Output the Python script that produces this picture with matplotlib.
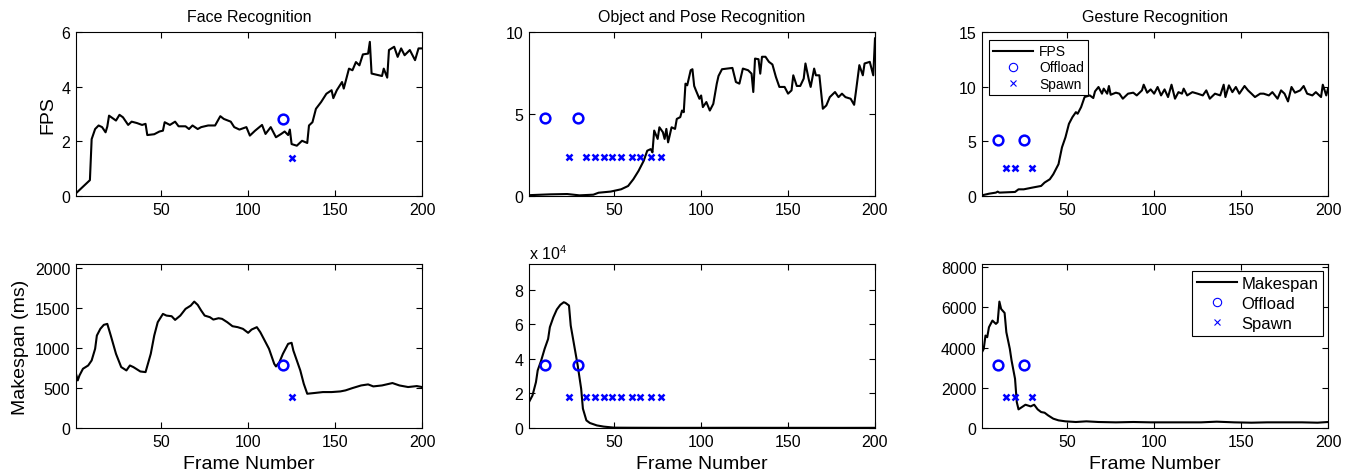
import matplotlib
matplotlib.use('Agg')
import matplotlib.pyplot as plt
from matplotlib.lines import Line2D
from matplotlib.ticker import FuncFormatter

plt.rcParams['font.family'] = ['Liberation Sans', 'DejaVu Sans']

# ---- Face recognition ----
face_fps_frames = [1, 9, 10, 12, 14, 16, 18, 19, 20, 22, 24, 26, 28, 31, 33, 36, 39, 41, 42,
                   46, 49, 51, 52, 55, 58, 60, 64, 66, 68, 71, 73, 77, 81, 84, 86, 90, 92, 95,
                   99, 101, 104, 108, 110, 113, 116, 119, 121, 123, 124, 125, 128, 131, 134,
                   135, 137, 139, 142, 145, 148, 149, 151, 154, 155, 158, 160, 162, 164, 166,
                   169, 170, 171, 175, 177, 178, 180, 181, 184, 186, 188, 190, 193, 196, 198, 200]
face_fps = [0.1, 0.58, 2.08, 2.45, 2.58, 2.52, 2.33, 2.54, 2.94, 2.85, 2.76, 2.97, 2.88, 2.6,
            2.72, 2.67, 2.6, 2.64, 2.23, 2.26, 2.36, 2.39, 2.7, 2.6, 2.72, 2.55, 2.55, 2.45,
            2.58, 2.45, 2.52, 2.58, 2.58, 2.92, 2.82, 2.72, 2.52, 2.43, 2.52, 2.21, 2.39, 2.6,
            2.27, 2.52, 2.15, 2.27, 2.36, 2.23, 2.43, 1.9, 1.84, 2.02, 1.94, 2.58, 2.7, 3.19,
            3.44, 3.74, 3.87, 3.58, 3.87, 4.17, 3.93, 4.66, 4.6, 4.9, 4.78, 5.18, 5.21, 5.64,
            4.48, 4.42, 4.39, 4.66, 4.33, 5.34, 5.46, 5.09, 5.4, 5.15, 5.34, 4.97, 5.4, 5.4]

face_ms_frames = [1, 2, 3, 5, 8, 10, 12, 13, 15, 17, 19, 21, 24, 27, 30, 32, 34, 38, 41, 44,
                  46, 48, 51, 53, 56, 58, 61, 64, 67, 69, 71, 73, 75, 78, 80, 83, 85, 88, 91,
                  94, 97, 100, 102, 105, 107, 109, 112, 115, 116, 118, 120, 123, 125, 126, 130,
                  132, 134, 138, 143, 148, 153, 156, 160, 165, 169, 172, 177, 183, 187, 192,
                  197, 200]
face_ms = [679, 596, 658, 742, 783, 846, 992, 1158, 1242, 1292, 1304, 1158, 929, 763, 721, 783,
           763, 708, 700, 929, 1158, 1325, 1429, 1408, 1400, 1354, 1408, 1492, 1533, 1583, 1542,
           1471, 1408, 1388, 1358, 1375, 1367, 1325, 1275, 1263, 1242, 1192, 1233, 1263, 1200,
           1117, 992, 804, 771, 825, 929, 1054, 1067, 971, 721, 554, 429, 438, 450, 450, 458,
           471, 500, 533, 546, 521, 533, 563, 533, 513, 525, 513]

face_offload = [120]
face_spawn = [125]
face_fps_levels = (2.82, 1.4)
face_ms_levels = (792, 392)

# ---- Object and pose recognition ----
obj_fps_frames = [1, 13, 23, 30, 38, 41, 48, 54, 58, 61, 64, 67, 69, 71, 72, 73, 75, 76, 78,
                  79, 80, 81, 83, 85, 86, 88, 89, 90, 91, 92, 94, 95, 96, 97, 99, 100, 101, 103,
                  105, 107, 109, 110, 112, 115, 118, 120, 122, 124, 127, 129, 130, 131, 133,
                  134, 135, 137, 139, 141, 143, 145, 148, 150, 152, 153, 155, 157, 159, 160,
                  162, 163, 165, 166, 168, 170, 172, 174, 177, 179, 181, 183, 186, 188, 189,
                  191, 193, 194, 197, 199, 200]
obj_fps = [0.05, 0.1, 0.12, 0.04, 0.08, 0.2, 0.27, 0.41, 0.61, 1.02, 1.53, 2.15, 2.76, 2.86,
           2.66, 3.99, 3.48, 4.19, 3.89, 3.48, 4.09, 3.27, 4.19, 4.09, 4.7, 4.81, 5.21, 5.11,
           6.85, 6.75, 7.67, 7.73, 6.71, 6.44, 5.93, 6.13, 5.42, 5.73, 5.21, 5.62, 6.85, 7.32,
           7.73, 7.77, 7.81, 6.95, 6.85, 7.77, 7.67, 7.46, 6.34, 8.38, 8.34, 7.46, 8.49, 8.49,
           8.18, 8.02, 7.26, 6.65, 6.65, 6.24, 6.44, 7.36, 6.71, 6.71, 7.16, 8.08, 7.06, 6.65,
           7.77, 7.36, 7.36, 5.32, 5.52, 6.03, 6.34, 6.03, 6.24, 6.03, 5.93, 5.56, 6.34, 7.98,
           7.36, 8.08, 8.18, 7.36, 9.61]

obj_ms_frames = [1, 3, 5, 6, 8, 10, 12, 13, 15, 17, 19, 21, 22, 24, 25, 27, 29, 31, 32, 34,
                 36, 40, 44, 50, 60, 80, 100, 120, 140, 160, 180, 200]
obj_ms = [15000, 18800, 26500, 33300, 39000, 45800, 51500, 58300, 64000, 68500, 71200, 72700,
          72300, 70800, 59200, 47700, 36200, 22700, 11200, 4400, 2900, 1500, 800, 200, 150,
          100, 100, 120, 100, 100, 80, 100]

obj_offload = [10, 29]
obj_spawn = [24, 34, 39, 44, 49, 54, 60, 65, 71, 77]
obj_fps_levels = (4.78, 2.38)
obj_ms_levels = (36500, 18100)

# ---- Gesture recognition ----
ges_fps_frames = [1, 5, 9, 10, 11, 20, 22, 25, 30, 35, 37, 40, 42, 45, 47, 49, 51, 53, 55, 56,
                  58, 60, 63, 65, 66, 68, 70, 71, 73, 74, 75, 78, 80, 82, 85, 88, 90, 93, 94,
                  96, 98, 100, 102, 104, 106, 108, 110, 112, 114, 116, 117, 119, 122, 125, 128,
                  130, 132, 135, 138, 140, 141, 143, 145, 147, 149, 152, 154, 156, 158, 161,
                  163, 166, 168, 171, 173, 175, 177, 179, 181, 184, 186, 188, 191, 193, 196,
                  197, 199, 200]
ges_fps = [0.06, 0.21, 0.31, 0.4, 0.31, 0.37, 0.61, 0.61, 0.77, 0.92, 1.23, 1.53, 1.99, 2.91,
           4.45, 5.37, 6.6, 7.21, 7.67, 7.52, 8.13, 9.05, 9.2, 8.96, 9.57, 9.97, 9.36, 9.82,
           9.36, 10.06, 9.26, 9.45, 9.36, 8.9, 9.36, 9.45, 9.2, 9.66, 10.18, 9.45, 9.75, 9.36,
           9.97, 9.2, 9.75, 9.05, 10.18, 8.9, 9.5, 9.36, 9.82, 9.2, 9.5, 9.36, 9.2, 9.66, 8.9,
           9.36, 9.2, 10.18, 9.05, 10.12, 9.5, 9.97, 9.36, 10.06, 9.66, 9.36, 9.05, 9.36, 9.36,
           9.2, 9.5, 8.9, 9.66, 9.36, 8.65, 9.97, 9.45, 9.66, 10.06, 9.36, 9.2, 9.5, 9.05,
           10.18, 9.2, 9.82]

ges_ms_frames = [1, 2, 3, 4, 5, 6, 7, 8, 9, 10, 11, 12, 14, 15, 17, 18, 20, 21, 22, 24, 26, 29,
                 31, 33, 35, 37, 39, 42, 45, 49, 55, 61, 68, 78, 88, 98, 107, 117, 127, 136,
                 146, 156, 165, 175, 185, 194, 200]
ges_ms = [3769, 3934, 4595, 4512, 5008, 5174, 5339, 5256, 5174, 5256, 6281, 5917, 5719, 4760,
          3934, 3355, 2446, 1289, 926, 1041, 1157, 1074, 1157, 926, 793, 760, 628, 463, 380,
          331, 298, 331, 298, 281, 298, 281, 281, 281, 281, 314, 281, 264, 281, 281, 281, 264,
          298]

ges_offload = [10, 25]
ges_spawn = [15, 20, 30]
ges_fps_levels = (5.08, 2.54)
ges_ms_levels = (3107, 1554)

titles = ['Face Recognition', 'Object and Pose Recognition', 'Gesture Recognition']
frame_ticks = [50, 100, 150, 200]

W, H = 1355, 477
fig = plt.figure(figsize=(W / 100, H / 100), dpi=100)

col_left = [76, 529, 982]
ax_w = 346
top_row = (33, 197)
bot_row = (265, 429)


def make_axes(left, rows):
    top, bottom = rows
    return fig.add_axes([left / W, 1 - bottom / H, ax_w / W, (bottom - top) / H])


def style(ax, ylim, yticks):
    ax.set_xlim(1, 200)
    ax.set_ylim(*ylim)
    ax.set_xticks(frame_ticks)
    ax.set_yticks(yticks)
    ax.tick_params(direction='in', top=True, right=True, length=4, width=0.8,
                   labelsize=11.5, pad=4, colors='black')
    for s in ax.spines.values():
        s.set_linewidth(0.8)
        s.set_color('black')


def draw(ax, frames, values, offload, spawn, levels):
    ax.plot(frames, values, color='black', lw=1.5)
    ax.plot(offload, [levels[0]] * len(offload), ls='none', marker='o', ms=7,
            mfc='none', mec='blue', mew=1.8)
    ax.plot(spawn, [levels[1]] * len(spawn), ls='none', marker='x', ms=4.5,
            mec='blue', mew=1.8)


top_data = [
    (face_fps_frames, face_fps, face_offload, face_spawn, face_fps_levels, (0, 6), [0, 2, 4, 6]),
    (obj_fps_frames, obj_fps, obj_offload, obj_spawn, obj_fps_levels, (0, 10), [0, 5, 10]),
    (ges_fps_frames, ges_fps, ges_offload, ges_spawn, ges_fps_levels, (0, 15), [0, 5, 10, 15]),
]
bot_data = [
    (face_ms_frames, face_ms, face_offload, face_spawn, face_ms_levels, (0, 2054),
     [0, 500, 1000, 1500, 2000]),
    (obj_ms_frames, obj_ms, obj_offload, obj_spawn, obj_ms_levels, (0, 94800),
     [0, 20000, 40000, 60000, 80000]),
    (ges_ms_frames, ges_ms, ges_offload, ges_spawn, ges_ms_levels, (0, 8150),
     [0, 2000, 4000, 6000, 8000]),
]

top_axes, bot_axes = [], []
for i in range(3):
    fr, vals, off, sp, lv, yl, yt = top_data[i]
    ax = make_axes(col_left[i], top_row)
    draw(ax, fr, vals, off, sp, lv)
    style(ax, yl, yt)
    ax.set_title(titles[i], fontsize=11.5, pad=8)
    top_axes.append(ax)

    fr, vals, off, sp, lv, yl, yt = bot_data[i]
    ax = make_axes(col_left[i], bot_row)
    draw(ax, fr, vals, off, sp, lv)
    style(ax, yl, yt)
    ax.set_xlabel('Frame Number', fontsize=14, labelpad=5)
    bot_axes.append(ax)

top_axes[0].set_ylabel('FPS', fontsize=14)
bot_axes[0].set_ylabel('Makespan (ms)', fontsize=14)

# object makespan is shown in units of 10^4
bot_axes[1].yaxis.set_major_formatter(FuncFormatter(lambda v, p: '%g' % (v / 1e4)))
bot_axes[1].text(0, 1.01, r'x 10$^{\mathregular{4}}$', transform=bot_axes[1].transAxes,
                 ha='left', va='bottom', fontsize=11.5)


def legend_handles(line_label):
    return [
        Line2D([], [], color='black', lw=1.5, label=line_label),
        Line2D([], [], ls='none', marker='o', ms=6, mfc='none', mec='blue', mew=0.8,
               label='Offload'),
        Line2D([], [], ls='none', marker='x', ms=5, mec='blue', mew=0.8, label='Spawn'),
    ]


def frame_legend(ax, line_label, loc, anchor, size, handlelength, spacing, textpad):
    leg = ax.legend(handles=legend_handles(line_label), loc=loc, bbox_to_anchor=anchor,
                    borderaxespad=0, fontsize=size, handlelength=handlelength,
                    handletextpad=textpad, labelspacing=spacing, borderpad=0.3,
                    fancybox=False, framealpha=1)
    leg.get_frame().set_edgecolor('black')
    leg.get_frame().set_linewidth(0.8)


frame_legend(top_axes[2], 'FPS', 'upper left', (0.02, 0.95), 10, 2.9, 0.15, 0.4)
frame_legend(bot_axes[2], 'Makespan', 'upper right', (0.986, 0.957), 12, 2.4, 0.3, 0.25)

fig.savefig('out.png', dpi=100)
